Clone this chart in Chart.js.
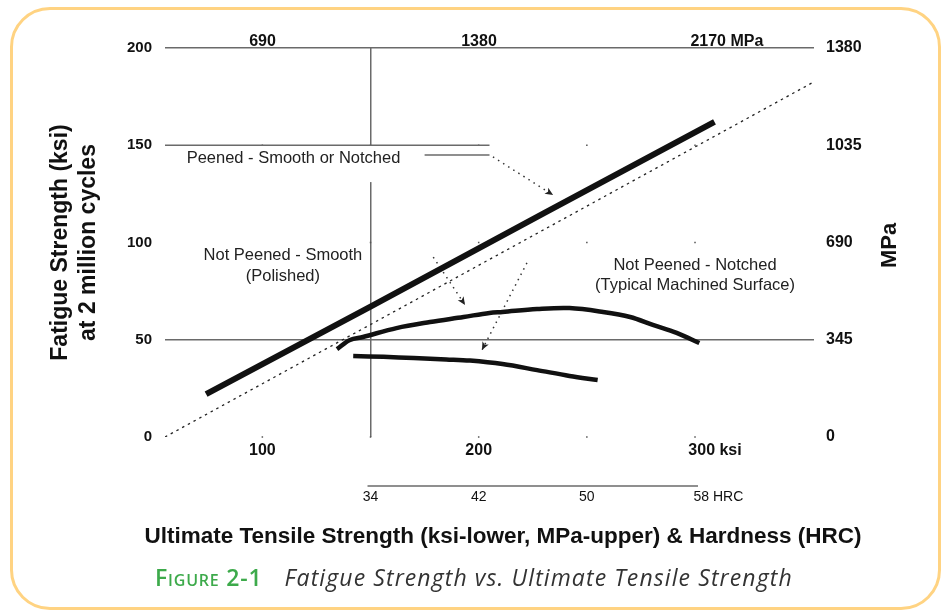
<!DOCTYPE html>
<html>
<head>
<meta charset="utf-8">
<script src="https://cdn.jsdelivr.net/npm/chart.js@4.4.1/dist/chart.umd.min.js"></script>
<style>
  html, body { margin: 0; padding: 0; background: #fff; }
  #wrap { position: relative; width: 943px; height: 610px; overflow: hidden; }
  #frame { position: absolute; left: 10px; top: 7px; width: 931px; height: 603px; box-sizing: border-box;
           border: 3px solid #FFD382; border-radius: 40px; }
  #c { position: absolute; left: 0; top: 0; }
  #xtitle { position: absolute; left: 0; width: 1006px; top: 523px; text-align: center; white-space: nowrap;
            font: bold 22.5px "Liberation Sans", Arial, sans-serif; color: #111; }
  #cap { position: absolute; left: 155px; top: 561px; white-space: nowrap; line-height: 30px; }
  #cap .fig { font: 600 23px "Open Sans", sans-serif; font-variant: small-caps; color: #3DAA4B; letter-spacing: 0.8px; }
  #cap .ct { font: italic 23px "Open Sans", sans-serif; color: #333; margin-left: 22px; letter-spacing: 1.1px; }
</style>
</head>
<body>
<div id="wrap">
  <div id="frame"></div>
  <canvas id="c" width="943" height="610"></canvas>
  <div id="xtitle">Ultimate Tensile Strength (ksi-lower, MPa-upper) &amp; Hardness (HRC)</div>
  <div id="cap"><span class="fig">Figure 2-1</span><span class="ct">Fatigue Strength vs. Ultimate Tensile Strength</span></div>
</div>
<script>
// ---------- data ----------
const ksiTicks   = [100, 150, 200, 250, 300];
const ksiLabels  = ['100', '', '200', '', '300 ksi'];
const mpaTopTicks  = [690, 1380, 2170];
const mpaTopLabels = ['690', '1380', '2170 MPa'];
const hrcTicksKsi = [150, 200, 250, 300];
const hrcLabels   = ['34', '42', '50', '58 HRC'];
const fatigueTicks  = [0, 50, 100, 150, 200];
const mpaRightTicks = [0, 345, 690, 1035, 1380];

const peenedX = [74, 150, 230, 309];
const peenedY = [22, 67, 115, 162];

const halfUtsX = [55, 354];
const halfUtsY = [0, 182];

const smoothX = [134.5, 140.5, 146.5, 162, 177.5, 193, 205, 211, 227, 242, 257.5, 270, 280.5, 291.5, 302];
const smoothY = [45.2, 49.9, 51.4, 56.0, 59.1, 61.7, 63.8, 64.3, 65.8, 66.3, 64.3, 61.7, 57.6, 53.5, 48.3];

const notchedX = [142, 156, 170, 185, 196, 211, 227, 242, 255];
const notchedY = [41.6, 41.2, 40.6, 39.9, 39.3, 37.5, 34.4, 31.4, 29.3];

const bracketX = [55, 205];
const bracketY = [150, 150];
const leaderX = [175, 205];
const leaderY = [145, 145];
const arrowPeenedX = [206.6, 234.4];
const arrowPeenedY = [144, 124.4];
const arrowSmoothX = [179, 193.7];
const arrowSmoothY = [92.5, 67.9];
const arrowNotchedX = [222.3, 201.5];
const arrowNotchedY = [89.5, 44.7];

const KSI_TO_MPA = 6.895;
const X_MIN = 55, X_MAX = 355;

const notes = [
  { lines: ['Peened - Smooth or Notched'], x: 65, y: 143.4, align: 'left', padTop: 13, padBottom: 24 },
  { lines: ['Not Peened - Smooth', '(Polished)'], x: 109.5, y: 93.1, align: 'center', padTop: 17, padBottom: 15 },
  { lines: ['Not Peened - Notched', '(Typical Machined Surface)'], x: 300, y: 88.4, align: 'center', padTop: 10, padBottom: 10 }
];

// ---------- helpers ----------
const pts = (xs, ys) => xs.map((x, i) => ({ x: x, y: ys[i] }));
const INK = '#111';
const GRID = '#6a6a6a';
const FONT = '"Liberation Sans", Arial, sans-serif';

function line(data, width, color, extra) {
  return Object.assign({ data: data, showLine: true, borderColor: color, borderWidth: width,
    pointRadius: 0, pointHoverRadius: 0, fill: false, tension: 0 }, extra || {});
}

const datasets = [
  line(pts(bracketX, bracketY), 1.5, GRID),
  line(pts(leaderX, leaderY), 1.5, GRID),
  line(pts(halfUtsX, halfUtsY), 1.3, '#222', { borderDash: [2.5, 4] }),
  line(pts(peenedX, peenedY), 6, INK),
  line(pts(smoothX, smoothY), 4.5, INK, { tension: 0.35 }),
  line(pts(notchedX, notchedY), 4.5, INK, { tension: 0.35 }),
  line(pts(arrowPeenedX, arrowPeenedY), 1.5, '#333', { borderDash: [1.5, 4.5], isArrow: true }),
  line(pts(arrowSmoothX, arrowSmoothY), 1.5, '#333', { borderDash: [1.5, 4.5], isArrow: true }),
  line(pts(arrowNotchedX, arrowNotchedY), 1.5, '#333', { borderDash: [1.5, 4.5], isArrow: true })
];

const decor = {
  id: 'decor',
  beforeDatasetsDraw(chart) {
    const ctx = chart.ctx, x = chart.scales.x, y = chart.scales.y;
    ctx.save();
    // grid dots
    ctx.fillStyle = '#555';
    [0, 100, 150].forEach(fv => {
      ksiTicks.forEach(kv => {
        ctx.fillRect(x.getPixelForValue(kv) - 0.75, y.getPixelForValue(fv) - 0.75, 1.5, 1.5);
      });
    });
    // white backgrounds of notes
    ctx.font = '16.5px ' + FONT;
    notes.forEach(n => {
      const px = x.getPixelForValue(n.x), py = y.getPixelForValue(n.y);
      const w = Math.max.apply(null, n.lines.map(s => ctx.measureText(s).width));
      const left = n.align === 'left' ? px : px - w / 2;
      ctx.fillStyle = '#fff';
      ctx.fillRect(left - 5, py - n.padTop, w + 10, (n.lines.length - 1) * 20.5 + n.padTop + n.padBottom);
    });
    ctx.restore();
  },
  afterDatasetsDraw(chart) {
    const ctx = chart.ctx, x = chart.scales.x, y = chart.scales.y, xH = chart.scales.xH, y2 = chart.scales.y2;
    ctx.save();
    // arrow heads
    chart.data.datasets.forEach((ds, i) => {
      if (!ds.isArrow) return;
      const d = chart.getDatasetMeta(i).data;
      const p1 = d[d.length - 1], p0 = d[d.length - 2];
      const a = Math.atan2(p1.y - p0.y, p1.x - p0.x);
      ctx.save();
      ctx.translate(p1.x, p1.y);
      ctx.rotate(a);
      ctx.fillStyle = '#222';
      ctx.beginPath();
      ctx.moveTo(0, 0); ctx.lineTo(-8, -3.5); ctx.lineTo(-6, 0); ctx.lineTo(-8, 3.5); ctx.closePath();
      ctx.fill();
      ctx.restore();
    });
    // note texts
    ctx.font = '16.5px ' + FONT;
    ctx.fillStyle = '#222';
    ctx.textBaseline = 'middle';
    notes.forEach(n => {
      const px = x.getPixelForValue(n.x), py = y.getPixelForValue(n.y);
      ctx.textAlign = n.align;
      n.lines.forEach((s, k) => ctx.fillText(s, px, py + k * 20.5));
    });
    // HRC axis line
    ctx.strokeStyle = GRID; ctx.lineWidth = 1.5;
    const hy = xH.top + 16;
    ctx.beginPath();
    ctx.moveTo(xH.getPixelForValue(hrcTicksKsi[0]) - 3, hy);
    ctx.lineTo(xH.getPixelForValue(hrcTicksKsi[hrcTicksKsi.length - 1]) + 3, hy);
    ctx.stroke();
    // right axis title (reads bottom to top)
    ctx.translate(y2.left + 76, (chart.chartArea.top + chart.chartArea.bottom) / 2 + 3);
    ctx.rotate(-Math.PI / 2);
    ctx.textAlign = 'center';
    ctx.font = 'bold 22px ' + FONT;
    ctx.fillStyle = INK;
    ctx.fillText('MPa', 0, 0);
    ctx.restore();
  }
};

const tickSet = (arr) => (scale) => { scale.ticks = arr.map(v => ({ value: v })); };
const fixW = (w) => (scale) => { scale.width = w; };
const fixH = (h) => (scale) => { scale.height = h; };

new Chart(document.getElementById('c'), {
  type: 'scatter',
  data: { datasets: datasets },
  options: {
    responsive: false,
    animation: false,
    events: [],
    layout: { padding: 0 },
    plugins: { legend: { display: false }, tooltip: { enabled: false }, title: { display: false } },
    scales: {
      x: {
        type: 'linear', position: 'bottom', min: X_MIN, max: X_MAX, weight: 0,
        afterBuildTicks: tickSet(ksiTicks), afterFit: fixH(33),
        grid: { drawTicks: false, lineWidth: 1.5, color: c => (c.tick && c.tick.value === 150) ? GRID : 'rgba(0,0,0,0)' },
        border: { display: false },
        ticks: { padding: 4, color: INK, font: { family: FONT, size: 16, weight: 'bold' },
          callback: (v) => { const s = ksiLabels[ksiTicks.indexOf(v)] || ''; return s.indexOf(' ') > 0 ? '         ' + s : s; } }
      },
      xH: {
        type: 'linear', position: 'bottom', min: X_MIN, max: X_MAX, weight: 1,
        afterBuildTicks: tickSet(hrcTicksKsi), afterFit: fixH(140),
        grid: { display: false, drawTicks: false }, border: { display: false },
        ticks: { padding: 18.6, color: INK, font: { family: FONT, size: 14 },
          callback: (v) => { const s = hrcLabels[hrcTicksKsi.indexOf(v)] || ''; return s.indexOf(' ') > 0 ? '            ' + s : s; } }
      },
      x2: {
        type: 'linear', position: 'top', min: X_MIN * KSI_TO_MPA, max: X_MAX * KSI_TO_MPA,
        afterBuildTicks: tickSet(mpaTopTicks), afterFit: fixH(48),
        grid: { display: false, drawTicks: false }, border: { display: false },
        ticks: { padding: -3.5, color: INK, font: { family: FONT, size: 16, weight: 'bold' },
          callback: (v) => mpaTopLabels[mpaTopTicks.indexOf(v)] || '' }
      },
      y: {
        type: 'linear', position: 'left', min: 0, max: 200,
        afterBuildTicks: tickSet(fatigueTicks), afterFit: fixW(165),
        grid: { drawTicks: false, lineWidth: 1.5, color: c => (c.tick && (c.tick.value === 50 || c.tick.value === 200)) ? GRID : 'rgba(0,0,0,0)' },
        border: { display: false },
        ticks: { padding: 13, color: INK, font: { family: FONT, size: 15, weight: 'bold' }, callback: (v) => String(v) },
        title: { display: true, text: ['Fatigue Strength (ksi)', 'at 2 million cycles'], color: INK,
          font: { family: FONT, size: 23, weight: 'bold' }, padding: { top: 47, bottom: 0 } }
      },
      y2: {
        type: 'linear', position: 'right', min: 0, max: 1380,
        afterBuildTicks: tickSet(mpaRightTicks), afterFit: fixW(129),
        grid: { display: false, drawTicks: false }, border: { display: false },
        ticks: { padding: 12, color: INK, font: { family: FONT, size: 16, weight: 'bold' }, callback: (v) => String(v) }
      }
    }
  },
  plugins: [decor]
});
</script>
</body>
</html>
